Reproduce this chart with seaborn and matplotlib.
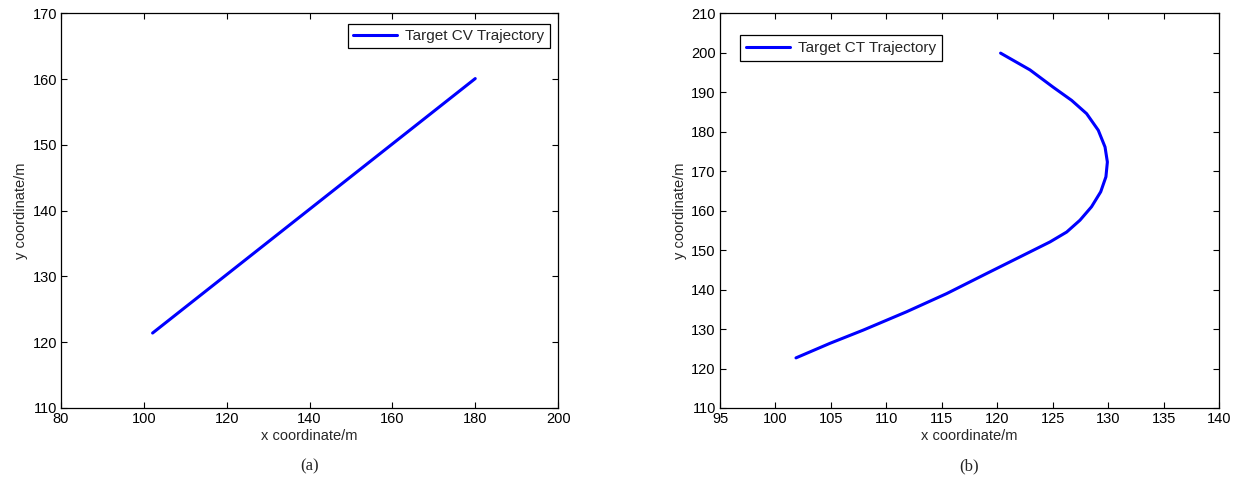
import numpy as np
import pandas as pd
import matplotlib
matplotlib.use("Agg")
import matplotlib.pyplot as plt
import seaborn as sns

# Panel (a): constant velocity trajectory
cv_x = [102.1, 180.0]
cv_y = [121.4, 160.1]

# Panel (b): coordinated turn trajectory
ct_x = [101.85, 104.92, 107.92, 111.83, 115.44, 119.05, 122.05, 124.76, 126.26,
        127.46, 128.5, 129.33, 129.8, 129.93, 129.72, 129.11, 128.06, 126.71,
        125.05, 122.95, 120.3]
ct_y = [122.7, 126.4, 129.75, 134.4, 139.0, 144.1, 148.3, 152.1, 154.6,
        157.6, 161.0, 164.8, 168.6, 172.35, 176.15, 180.4, 184.6, 187.97,
        191.3, 195.7, 199.95]

sns.set_theme(style="ticks")
plt.rcParams['font.family'] = ['Liberation Sans', 'DejaVu Sans']
plt.rcParams['font.size'] = 10.5

fig = plt.figure(figsize=(12.41, 4.83), dpi=100)
ax1 = fig.add_axes([0.0492, 0.1553, 0.4005, 0.8168])
ax2 = fig.add_axes([0.5802, 0.1553, 0.4021, 0.8168])

df_cv = pd.DataFrame({"x": cv_x, "y": cv_y})
df_ct = pd.DataFrame({"x": ct_x, "y": ct_y})

sns.lineplot(data=df_cv, x="x", y="y", sort=False, estimator=None, color="#0000ff",
             linewidth=2.2, ax=ax1, label="Target CV Trajectory")
sns.lineplot(data=df_ct, x="x", y="y", sort=False, estimator=None, color="#0000ff",
             linewidth=2.2, ax=ax2, label="Target CT Trajectory")

ax1.set_xlim(80, 200)
ax1.set_ylim(110, 170)
ax1.set_xticks(np.arange(80, 201, 20))
ax1.set_yticks(np.arange(110, 171, 10))

ax2.set_xlim(95, 140)
ax2.set_ylim(110, 210)
ax2.set_xticks(np.arange(95, 141, 5))
ax2.set_yticks(np.arange(110, 211, 10))

for ax in (ax1, ax2):
    ax.set_xlabel("x coordinate/m", fontsize=10.5, labelpad=2)
    ax.set_ylabel("y coordinate/m", fontsize=10.5, labelpad=3)
    ax.tick_params(direction="in", top=True, right=True, length=4, width=0.8,
                   labelsize=10.5, colors="black", pad=3)
    for s in ax.spines.values():
        s.set_visible(True)
        s.set_color("black")
        s.set_linewidth(0.9)
    ax.set_facecolor("white")

leg1 = ax1.legend(loc="upper right", bbox_to_anchor=(0.992, 0.986), fancybox=False,
                  edgecolor="black", framealpha=1, fontsize=11, handlelength=2.9,
                  borderpad=0.35, handletextpad=0.5, borderaxespad=0.3)
leg1.get_frame().set_linewidth(0.9)
leg2 = ax2.legend(loc="upper left", bbox_to_anchor=(0.04, 0.945), fancybox=False,
                  edgecolor="black", framealpha=1, fontsize=11, handlelength=2.9,
                  borderpad=0.4, handletextpad=0.5, borderaxespad=0.0)
leg2.get_frame().set_linewidth(0.9)

fig.text(0.2494, 0.035, "(a)", ha="center", va="center", fontsize=12,
         family=["Liberation Serif", "DejaVu Serif"])
fig.text(0.7812, 0.035, "(b)", ha="center", va="center", fontsize=12,
         family=["Liberation Serif", "DejaVu Serif"])

fig.savefig("out.png", dpi=100, facecolor="white")
